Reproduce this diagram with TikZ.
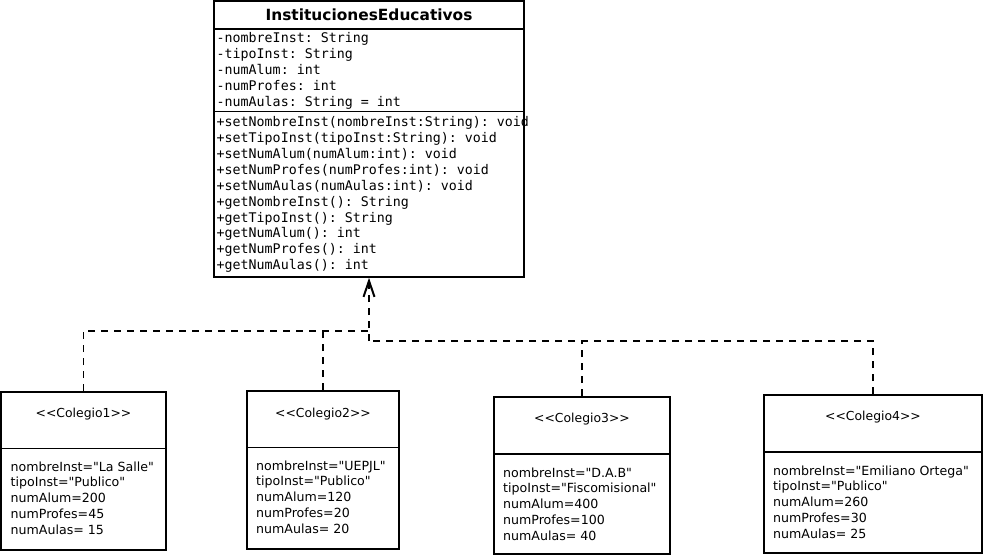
\documentclass[tikz,border=0pt]{standalone}
\usepackage{fontspec}
\setmainfont{DejaVu Sans}[Ligatures=TeXOff]
\newfontfamily\monofnt{DejaVu Sans Mono}[Ligatures=TeXOff]
\usetikzlibrary{arrows.meta}
\begin{document}
\begin{tikzpicture}[x=1pt,y=-1pt,
  umlbox/.style={draw, line width=1.6pt, rectangle, inner sep=0pt},
  divline/.style={line width=1.6pt},
  mono/.style={font=\monofnt\fontsize{13.3}{16}\selectfont\frenchspacing, anchor=base west, inner sep=0pt},
  titlebold/.style={font=\fontsize{15.4}{18}\selectfont\bfseries, anchor=base, inner sep=0pt},
  ctitle/.style={font=\fontsize{12.4}{16}\selectfont, anchor=base, inner sep=0pt},
  ctext/.style={font=\fontsize{12.6}{16}\selectfont\frenchspacing, anchor=base west, inner sep=0pt},
  dep/.style={line width=1.6pt, dash pattern=on 7pt off 6pt}
]
\useasboundingbox (0,0) rectangle (984,556);

% ---------- top class ----------
\node[umlbox, minimum width=310pt, minimum height=276pt] (inst) at (369,139) {};
\draw[divline] (214,29) -- (524,29);
\draw[divline] (214,111.5) -- (524,111.5);
\node[titlebold] (ititle) at (369,21) {InstitucionesEducativos};

\foreach \t [count=\i from 0] in {%
  -nombreInst: String,
  -tipoInst: String,
  -numAlum: int,
  -numProfes: int,
  -numAulas: String = int}
  \node[mono] (attr\i) at (216.5,43+15.85*\i) {\t};

\foreach \t [count=\i from 0] in {%
  +setNombreInst(nombreInst:String): void,
  +setTipoInst(tipoInst:String): void,
  +setNumAlum(numAlum:int): void,
  +setNumProfes(numProfes:int): void,
  +setNumAulas(numAulas:int): void,
  +getNombreInst(): String,
  +getTipoInst(): String,
  +getNumAlum(): int,
  +getNumProfes(): int,
  +getNumAulas(): int}
  \node[mono] (meth\i) at (216.5,127+15.85*\i) {\t};

% ---------- Colegio 1 ----------
\node[umlbox, minimum width=165pt, minimum height=158pt] (c1) at (83.5,471) {};
\draw[divline] (1,448.5) -- (166,448.5);
\node[ctitle] (c1t) at (83.5,417) {<{}<Colegio1>{}>};
\foreach \t [count=\i from 0] in {%
  nombreInst="La Salle",
  tipoInst="Publico",
  numAlum=200,
  numProfes=45,
  numAulas= 15}
  \node[ctext] (c1l\i) at (10.5,471+15.85*\i) {\t};

% ---------- Colegio 2 ----------
\node[umlbox, minimum width=152pt, minimum height=158pt] (c2) at (323,470) {};
\draw[divline] (247,447.5) -- (399,447.5);
\node[ctitle] (c2t) at (323,417) {<{}<Colegio2>{}>};
\foreach \t [count=\i from 0] in {%
  nombreInst="UEPJL",
  tipoInst="Publico",
  numAlum=120,
  numProfes=20,
  numAulas= 20}
  \node[ctext] (c2l\i) at (256,470+15.85*\i) {\t};

% ---------- Colegio 3 ----------
\node[umlbox, minimum width=176pt, minimum height=157pt] (c3) at (582,475.5) {};
\draw[divline] (494,454) -- (670,454);
\node[ctitle] (c3t) at (582,422) {<{}<Colegio3>{}>};
\foreach \t [count=\i from 0] in {%
  nombreInst="D.A.B",
  tipoInst="Fiscomisional",
  numAlum=400,
  numProfes=100,
  numAulas= 40}
  \node[ctext] (c3l\i) at (503,477+15.85*\i) {\t};

% ---------- Colegio 4 ----------
\node[umlbox, minimum width=218pt, minimum height=158pt] (c4) at (873,474) {};
\draw[divline] (764,452) -- (982,452);
\node[ctitle] (c4t) at (873,420) {<{}<Colegio4>{}>};
\foreach \t [count=\i from 0] in {%
  nombreInst="Emiliano Ortega",
  tipoInst="Publico",
  numAlum=260,
  numProfes=30,
  numAulas= 25}
  \node[ctext] (c4l\i) at (773,475+15.85*\i) {\t};

% ---------- connectors ----------
\coordinate (j1) at (369,331);
\coordinate (j2) at (369,341);
\coordinate (k2) at (323,331);
\coordinate (k3) at (582,341);
\draw[dep, -{Straight Barb[length=16pt,width=11pt,line width=2pt]}] (j2) -- (inst.south);
\draw[dep] (c1.north) |- (j1);
\draw[dep] (c2.north) -- (k2);
\draw[dep] (c3.north) -- (k3);
\draw[dep] (c4.north) |- (j2);
\end{tikzpicture}
\end{document}
